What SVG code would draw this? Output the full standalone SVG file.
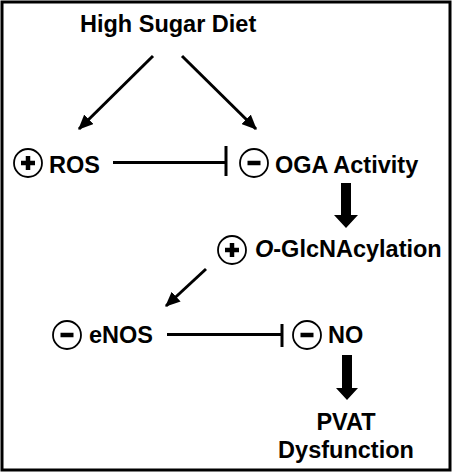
<svg xmlns="http://www.w3.org/2000/svg" width="454" height="473" viewBox="0 0 454 473">
<style>
text{font-family:"Liberation Sans",Arial,sans-serif;font-weight:bold;font-size:23.5px;fill:#000}
.c{fill:#fff;stroke:#000;stroke-width:1.8}
.ln{stroke:#000;stroke-width:3;fill:none}
.sym{stroke:#000;stroke-width:4.5;stroke-linecap:butt}
</style>
<defs>
<marker id="ah" markerWidth="5" markerHeight="4.4" refX="4.6" refY="2.2" orient="auto" markerUnits="strokeWidth">
<path d="M0,0 L5,2.2 L0,4.4 Z" fill="#000"/>
</marker>
</defs>
<rect x="2" y="2" width="448" height="468" fill="#fff" stroke="#000" stroke-width="3"/>
<g id="high-sugar-diet"><text x="80" y="32">High Sugar Diet</text></g>
<g id="ros">
<circle class="c" cx="28" cy="163" r="14"/>
<line class="sym" x1="21" y1="163" x2="35" y2="163"/><line class="sym" x1="28" y1="156" x2="28" y2="170"/>
<text x="49" y="173">ROS</text>
</g>
<g id="oga">
<circle class="c" cx="254" cy="163" r="14"/>
<line class="sym" x1="247.5" y1="163" x2="260.5" y2="163"/>
<text x="275" y="173">OGA Activity</text>
</g>
<g id="oglcnac">
<circle class="c" cx="232" cy="250" r="14"/>
<line class="sym" x1="225" y1="250" x2="239" y2="250"/><line class="sym" x1="232" y1="243" x2="232" y2="257"/>
<text x="255" y="257"><tspan font-style="italic">O</tspan>-GlcNAcylation</text>
</g>
<g id="enos">
<circle class="c" cx="67" cy="335" r="14"/>
<line class="sym" x1="60.5" y1="335" x2="73.5" y2="335"/>
<text x="89" y="343">eNOS</text>
</g>
<g id="no">
<circle class="c" cx="307" cy="335" r="14"/>
<line class="sym" x1="300.5" y1="335" x2="313.5" y2="335"/>
<text x="328" y="343">NO</text>
</g>
<g id="pvat">
<text x="346" y="430" text-anchor="middle">PVAT</text>
<text x="346" y="458" text-anchor="middle">Dysfunction</text>
</g>
<g id="connectors">
<line class="ln" x1="153" y1="56" x2="79" y2="129" marker-end="url(#ah)"/>
<line class="ln" x1="182" y1="56" x2="256" y2="129" marker-end="url(#ah)"/>
<line class="ln" x1="206" y1="269" x2="166" y2="306" marker-end="url(#ah)"/>
<line class="ln" x1="113" y1="162.5" x2="226" y2="162.5"/>
<line class="ln" x1="226" y1="146" x2="226" y2="176"/>
<line class="ln" x1="167" y1="334.5" x2="282" y2="334.5"/>
<line class="ln" x1="282" y1="324" x2="282" y2="347"/>
<path d="M341,183 H351 V215 H358 L346,228 L334,215 H341 Z" fill="#000"/>
<path d="M342,355 H352 V388 H358 L347,400 L336,388 H342 Z" fill="#000"/>
</g>
</svg>
